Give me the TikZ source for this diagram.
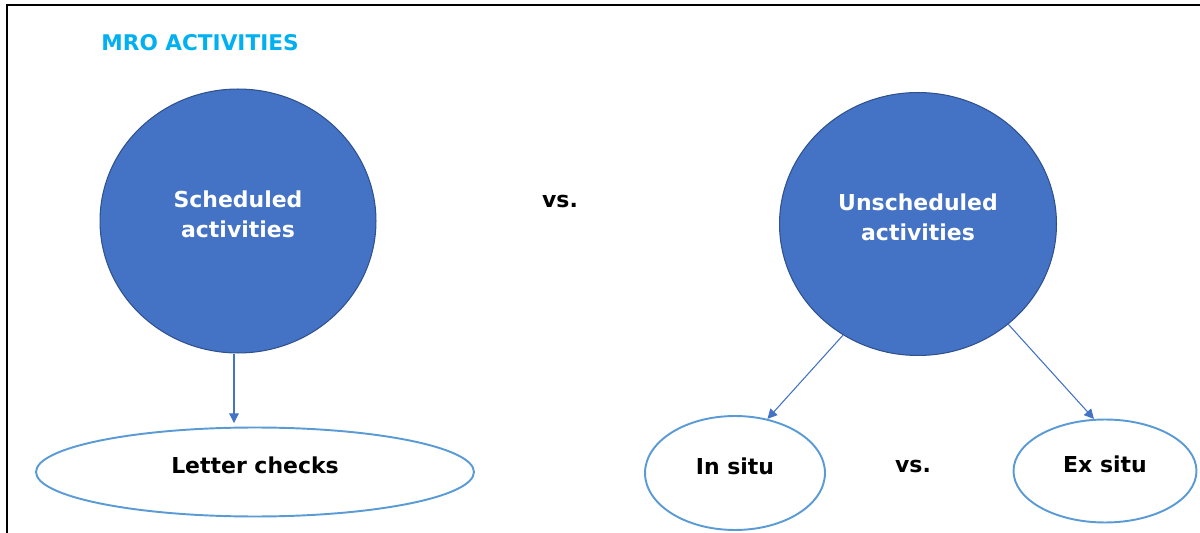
\documentclass[tikz,border=0pt]{standalone}
\usepackage{fontspec}
\setmainfont{DejaVu Sans}
\usetikzlibrary{shapes.geometric, arrows.meta}
\definecolor{mroblue}{HTML}{4472C4}
\definecolor{mroedge}{HTML}{2F528F}
\definecolor{mrolight}{HTML}{5B9BD5}
\definecolor{mrotitle}{HTML}{00B0F0}
\begin{document}
\begin{tikzpicture}[x=0.02cm, y=-0.02cm, >={Triangle[length=5.5pt, width=5.5pt]},
    every node/.style={font=\fontsize{12.5}{17}\selectfont\bfseries, align=center},
    bigcircle/.style={ellipse, fill=mroblue, draw=mroedge, line width=0.6pt, text=white, inner sep=0pt, text depth=0.27cm},
    smallellipse/.style={ellipse, draw=mrolight, line width=1.1pt, inner sep=0pt, text depth=0.26cm},
    link/.style={->, draw=mroblue, fill=mroblue, line width=0.6pt}]

    \useasboundingbox (0,0) rectangle (1200,533);

    % Frame
    \draw[line width=1.7pt] (7,533) -- (7,5) -- (1200,5);

    % Nodes
    \node[text=mrotitle, font=\fontsize{12.3}{14}\selectfont\bfseries] (title) at (200,43) {MRO ACTIVITIES};
    \node[bigcircle, minimum width=5.52cm, minimum height=5.28cm] (sched) at (238,221) {Scheduled\\activities};
    \node[bigcircle, minimum width=5.54cm, minimum height=5.26cm] (unsched) at (918,224) {Unscheduled\\activities};
    \node (vs1) at (560,202) {vs.};
    \node[smallellipse, minimum width=8.76cm, minimum height=1.78cm] (letter) at (255,472) {Letter checks};
    \node[smallellipse, minimum width=3.6cm, minimum height=2.28cm] (insitu) at (735,473) {In situ};
    \node (vs2) at (913,467) {vs.};
    \node[smallellipse, minimum width=3.66cm, minimum height=2.06cm] (exsitu) at (1105,471) {Ex situ};

    % Arrows
    \draw[link, shorten >=2pt] ([xshift=-0.08cm]sched.south) -- ([xshift=-0.08cm]sched.south |- letter.north);
    \draw[link] (unsched.236) -- (insitu.59);
    \draw[link] (unsched.-48) -- (exsitu.102);

\end{tikzpicture}
\end{document}
